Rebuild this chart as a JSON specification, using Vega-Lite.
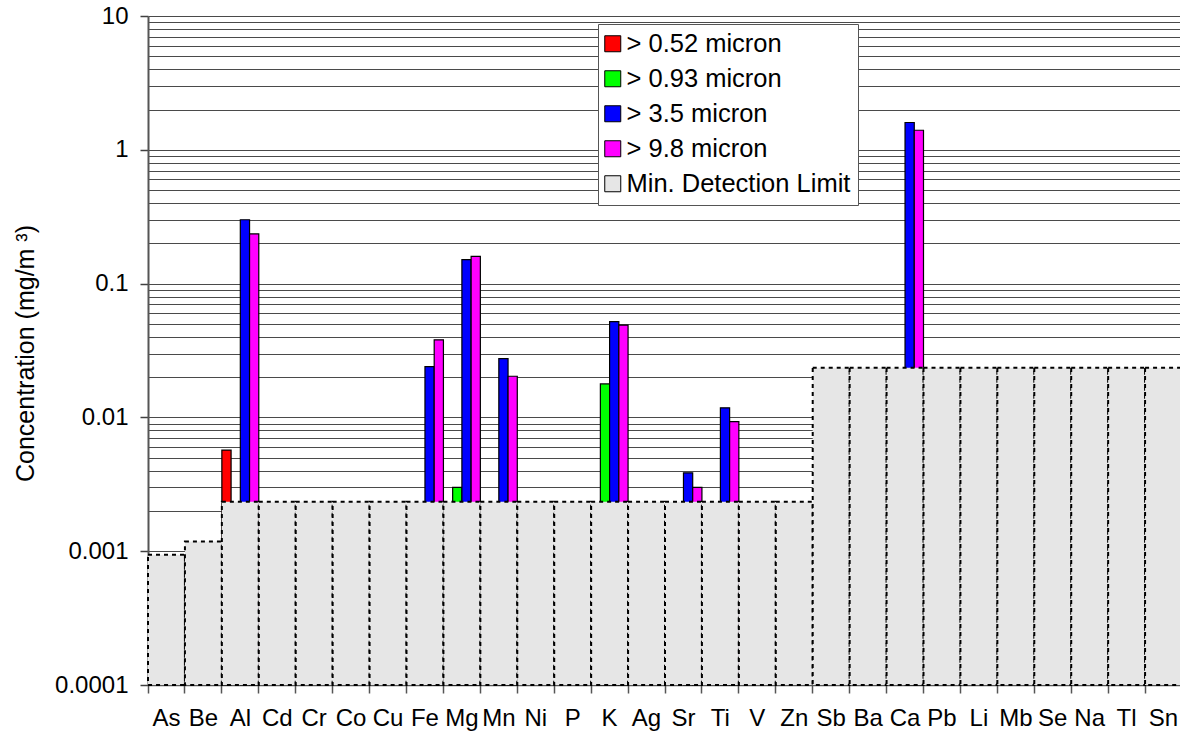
{
  "$schema": "https://vega.github.io/schema/vega-lite/v6.json",
  "width": 1034,
  "height": 669,
  "autosize": {"type": "none"},
  "padding": {"left": 148, "top": 16, "right": 0, "bottom": 51},
  "background": "white",
  "config": {"view": {"stroke": null}, "font": "Liberation Sans"},
  "datasets": {
    "mdl": [
      {"element": "As", "mdl": 0.00094},
      {"element": "Be", "mdl": 0.00118},
      {"element": "Al", "mdl": 0.00234},
      {"element": "Cd", "mdl": 0.00234},
      {"element": "Cr", "mdl": 0.00234},
      {"element": "Co", "mdl": 0.00234},
      {"element": "Cu", "mdl": 0.00234},
      {"element": "Fe", "mdl": 0.00234},
      {"element": "Mg", "mdl": 0.00234},
      {"element": "Mn", "mdl": 0.00234},
      {"element": "Ni", "mdl": 0.00234},
      {"element": "P", "mdl": 0.00234},
      {"element": "K", "mdl": 0.00234},
      {"element": "Ag", "mdl": 0.00234},
      {"element": "Sr", "mdl": 0.00234},
      {"element": "Ti", "mdl": 0.00234},
      {"element": "V", "mdl": 0.00234},
      {"element": "Zn", "mdl": 0.00234},
      {"element": "Sb", "mdl": 0.0235},
      {"element": "Ba", "mdl": 0.0235},
      {"element": "Ca", "mdl": 0.0235},
      {"element": "Pb", "mdl": 0.0235},
      {"element": "Li", "mdl": 0.0235},
      {"element": "Mb", "mdl": 0.0235},
      {"element": "Se", "mdl": 0.0235},
      {"element": "Na", "mdl": 0.0235},
      {"element": "Tl", "mdl": 0.0235},
      {"element": "Sn", "mdl": 0.0235}
    ],
    "bars": [
      {"element": "Al", "size": "> 0.52 micron", "value": 0.0057},
      {"element": "Al", "size": "> 3.5 micron", "value": 0.30},
      {"element": "Al", "size": "> 9.8 micron", "value": 0.235},
      {"element": "Fe", "size": "> 3.5 micron", "value": 0.024},
      {"element": "Fe", "size": "> 9.8 micron", "value": 0.038},
      {"element": "Mg", "size": "> 0.93 micron", "value": 0.0030},
      {"element": "Mg", "size": "> 3.5 micron", "value": 0.151},
      {"element": "Mg", "size": "> 9.8 micron", "value": 0.160},
      {"element": "Mn", "size": "> 3.5 micron", "value": 0.0275},
      {"element": "Mn", "size": "> 9.8 micron", "value": 0.0203},
      {"element": "K", "size": "> 0.93 micron", "value": 0.0178},
      {"element": "K", "size": "> 3.5 micron", "value": 0.052},
      {"element": "K", "size": "> 9.8 micron", "value": 0.049},
      {"element": "Sr", "size": "> 3.5 micron", "value": 0.00385},
      {"element": "Sr", "size": "> 9.8 micron", "value": 0.0030},
      {"element": "Ti", "size": "> 3.5 micron", "value": 0.0118},
      {"element": "Ti", "size": "> 9.8 micron", "value": 0.0093},
      {"element": "Ca", "size": "> 3.5 micron", "value": 1.60},
      {"element": "Ca", "size": "> 9.8 micron", "value": 1.40}
    ]
  },
  "layer": [
    {
      "data": {"name": "bars"},
      "mark": {"type": "bar", "stroke": "black", "strokeWidth": 1.2},
      "encoding": {
        "x": {
          "field": "element",
          "type": "nominal",
          "scale": {
            "domain": ["As","Be","Al","Cd","Cr","Co","Cu","Fe","Mg","Mn","Ni","P","K","Ag","Sr","Ti","V","Zn","Sb","Ba","Ca","Pb","Li","Mb","Se","Na","Tl","Sn"],
            "paddingInner": 0,
            "paddingOuter": 0
          },
          "axis": {
            "title": null,
            "bandPosition": 0,
            "labelAngle": 0,
            "labelFontSize": 24,
            "labelColor": "black",
            "labelPadding": 13,
            "labelOverlap": false,
            "labelBound": false,
            "labelFlush": false,
            "tickSize": 8,
            "tickColor": "#555555",
            "tickWidth": 1.5,
            "domainColor": "#555555",
            "domainWidth": 1.5,
            "grid": false
          }
        },
        "xOffset": {
          "field": "size",
          "type": "nominal",
          "scale": {
            "domain": ["> 0.52 micron", "> 0.93 micron", "> 3.5 micron", "> 9.8 micron"],
            "paddingInner": 0,
            "paddingOuter": 0
          }
        },
        "y": {
          "field": "value",
          "type": "quantitative",
          "scale": {"type": "log", "domain": [0.0001, 10], "nice": false},
          "axis": {
            "values": [0.0001,0.0002,0.0003,0.0004,0.0005,0.0006,0.0007,0.0008,0.0009,
                       0.001,0.002,0.003,0.004,0.005,0.006,0.007,0.008,0.009,
                       0.01,0.02,0.03,0.04,0.05,0.06,0.07,0.08,0.09,
                       0.1,0.2,0.3,0.4,0.5,0.6,0.7,0.8,0.9,
                       1,2,3,4,5,6,7,8,9,10],
            "labelExpr": "abs(log(datum.value)/LN10 - round(log(datum.value)/LN10)) < 0.001 ? '' + datum.value : ''",
            "labelFontSize": 24,
            "labelColor": "black",
            "labelPadding": 12,
            "labelOverlap": false,
            "labelBound": false,
            "labelFlush": false,
            "tickSize": 8,
            "tickWidth": 1.5,
            "tickColor": {"condition": {"test": "abs(log(datum.value)/LN10 - round(log(datum.value)/LN10)) < 0.001", "value": "#404040"}, "value": "transparent"},
            "grid": true,
            "gridColor": "#4a4a4a",
            "gridWidth": 1,
            "domainColor": "#555555",
            "domainWidth": 2,
            "title": "Concentration (mg/m ³)",
            "titleFontSize": 25,
            "titleFontWeight": "normal",
            "titleColor": "black",
            "titleAngle": -90,
            "titleAlign": "center",
            "titleBaseline": "middle",
            "titleX": -123,
            "titleY": 337
          }
        },
        "y2": {"datum": 0.0001},
        "color": {
          "field": "size",
          "type": "nominal",
          "scale": {
            "domain": ["> 0.52 micron", "> 0.93 micron", "> 3.5 micron", "> 9.8 micron", "Min. Detection Limit"],
            "range": ["#ff0000", "#00ff00", "#0000ff", "#ff00ff", "#e6e6e6"]
          },
          "legend": {
            "orient": "none",
            "legendX": 450,
            "legendY": 8,
            "title": null,
            "labelFontSize": 25.5,
            "labelColor": "black",
            "labelOffset": 1,
            "labelLimit": 400,
            "symbolType": "square",
            "symbolSize": 256,
            "symbolOffset": -5,
            "symbolStrokeColor": "black",
            "symbolStrokeWidth": 1,
            "symbolOpacity": 1,
            "rowPadding": 8,
            "padding": 7,
            "fillColor": "white",
            "strokeColor": "#555555"
          }
        }
      }
    },
    {
      "data": {"name": "mdl"},
      "mark": {"type": "bar", "stroke": "black", "strokeWidth": 2, "strokeDash": [4, 4]},
      "encoding": {
        "x": {"field": "element", "type": "nominal"},
        "y": {"field": "mdl", "type": "quantitative"},
        "y2": {"datum": 0.0001},
        "color": {"datum": "Min. Detection Limit"}
      }
    }
  ]
}
